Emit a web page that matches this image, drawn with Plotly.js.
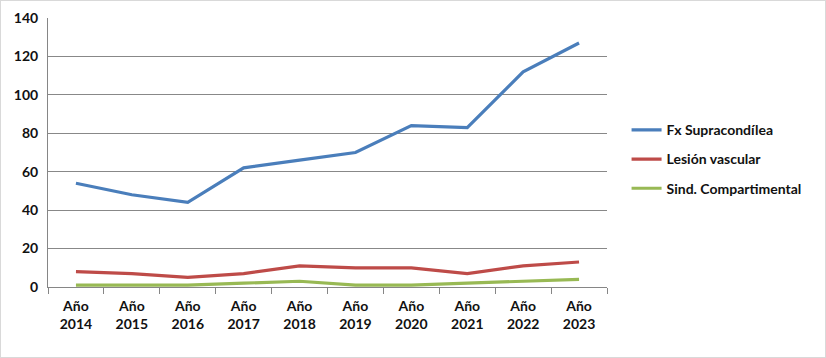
<!DOCTYPE html>
<html>
<head>
<meta charset="utf-8">
<script src="https://cdn.plot.ly/plotly-3.0.1.min.js"></script>
<style>
html,body{margin:0;padding:0;background:#fff;}
#chart{width:826px;height:358px;box-sizing:border-box;border:1px solid #d9d9d9;}
</style>
</head>
<body>
<div id="chart"></div>
<script>
const categories = ["Año<br>2014","Año<br>2015","Año<br>2016","Año<br>2017","Año<br>2018","Año<br>2019","Año<br>2020","Año<br>2021","Año<br>2022","Año<br>2023"];
const seriesNames = ["Fx Supracondílea","Lesión vascular","Sind. Compartimental"];
const fxSupracondilea = [54, 48, 44, 62, 66, 70, 84, 83, 112, 127];
const lesionVascular = [8, 7, 5, 7, 11, 10, 10, 7, 11, 13];
const sindCompartimental = [1, 1, 1, 2, 3, 1, 1, 2, 3, 4];
const colors = ["#4A7EBB","#BE4B48","#98B954"];

const data = [fxSupracondilea, lesionVascular, sindCompartimental].map((ys,i)=>({
  x: categories, y: ys, type:"scatter", mode:"lines", name: seriesNames[i],
  legendgroup: "g"+i,
  line:{color:colors[i], width:3.2}
}));

const layout = {
  width: 824, height: 356,
  margin:{l:47, r:218, t:17, b:70},
  paper_bgcolor:"#fff", plot_bgcolor:"#fff",
  font:{family:"Lato, 'Liberation Sans', sans-serif", size:14, color:"#222"},
  showlegend:true,
  legend:{x:1.035, y:0.475, xanchor:"left", yanchor:"middle", traceorder:"grouped",
    font:{size:14, color:"#111", weight:"bold"}, tracegroupgap:8, itemwidth:30, bgcolor:"rgba(0,0,0,0)"},
  xaxis:{type:"category", range:[-0.5, 9.5], showgrid:false, showline:true, linecolor:"#868686", linewidth:1,
    ticks:"outside", tickson:"boundaries", ticklen:6, tickcolor:"#868686",
    tickfont:{size:14, color:"#111", weight:"bold"}, ticklabelstandoff:6, fixedrange:true},
  yaxis:{range:[0,140], dtick:20, showgrid:true, gridcolor:"#888", gridwidth:1, showline:true, linecolor:"#868686",
    zeroline:false, ticks:"", tickfont:{size:14, color:"#111", weight:"bold"}, fixedrange:true, ticklabelstandoff:6}
};
Plotly.newPlot("chart", data, layout, {displayModeBar:false, staticPlot:true});
</script>
</body>
</html>
